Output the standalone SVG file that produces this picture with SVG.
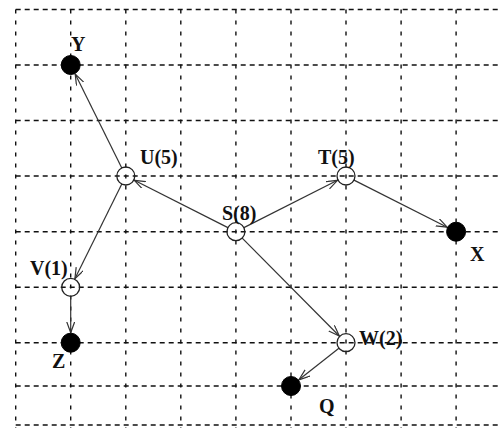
<svg xmlns="http://www.w3.org/2000/svg" width="501" height="428" viewBox="0 0 501 428">
<style>
.gh{stroke:#111;stroke-width:1.4;stroke-dasharray:5 4;fill:none}
.gv{stroke:#111;stroke-width:1.4;stroke-dasharray:4 7;fill:none}
.edge{stroke:#333;stroke-width:1.2;fill:none;marker-end:url(#arr)}
.open{fill:none;stroke:#222;stroke-width:1.3}
.full{fill:#000;stroke:#000;stroke-width:1}
.lbl{font-family:"Liberation Serif","Times New Roman",serif;font-weight:bold;font-size:20px;fill:#111}
</style>
<defs>
<marker id="arr" markerUnits="userSpaceOnUse" markerWidth="14" markerHeight="10" refX="11" refY="4" orient="auto">
<path d="M0,0 L11,4 L0,8" fill="none" stroke="#333" stroke-width="1.2"/>
</marker>
</defs>
<rect width="501" height="428" fill="#fff"/>
<g id="grid">
<line class="gh" x1="15.7" y1="9.5" x2="501" y2="9.5"/>
<line class="gh" x1="15.7" y1="65" x2="501" y2="65"/>
<line class="gh" x1="15.7" y1="120.5" x2="501" y2="120.5"/>
<line class="gh" x1="15.7" y1="176" x2="501" y2="176"/>
<line class="gh" x1="15.7" y1="231.7" x2="501" y2="231.7"/>
<line class="gh" x1="15.7" y1="287.3" x2="501" y2="287.3"/>
<line class="gh" x1="15.7" y1="342.7" x2="501" y2="342.7"/>
<line class="gh" x1="15.7" y1="386" x2="501" y2="386"/>
<line class="gh" x1="15.7" y1="425" x2="501" y2="425"/>
<line class="gv" x1="15.7" y1="9.5" x2="15.7" y2="428"/>
<line class="gv" x1="70.7" y1="9.5" x2="70.7" y2="428"/>
<line class="gv" x1="125.8" y1="9.5" x2="125.8" y2="428"/>
<line class="gv" x1="180.8" y1="9.5" x2="180.8" y2="428"/>
<line class="gv" x1="235.9" y1="9.5" x2="235.9" y2="428"/>
<line class="gv" x1="291" y1="9.5" x2="291" y2="428"/>
<line class="gv" x1="346" y1="9.5" x2="346" y2="428"/>
<line class="gv" x1="401.1" y1="9.5" x2="401.1" y2="428"/>
<line class="gv" x1="456.1" y1="9.5" x2="456.1" y2="428"/>
</g>
<g id="connectors">
<line class="edge" x1="227.9" y1="227.6" x2="134.3" y2="180.3"/>
<line class="edge" x1="243.9" y1="227.6" x2="337.5" y2="180.3"/>
<line class="edge" x1="242.2" y1="238.1" x2="339.3" y2="336"/>
<line class="edge" x1="121.8" y1="167.9" x2="75.2" y2="74"/>
<line class="edge" x1="121.8" y1="184.1" x2="74.9" y2="278.8"/>
<line class="edge" x1="354" y1="180.1" x2="447.2" y2="227.2"/>
<line class="edge" x1="70.7" y1="296.3" x2="70.7" y2="332.7"/>
<line class="edge" x1="338.9" y1="348.3" x2="298.9" y2="379.8"/>
</g>
<g id="node-Y"><circle class="full" cx="70.7" cy="65" r="9.5"/><text class="lbl" x="71" y="51">Y</text></g>
<g id="node-U"><circle class="open" cx="125.8" cy="176" r="9"/><text class="lbl" x="140" y="164">U(5)</text></g>
<g id="node-S"><circle class="open" cx="235.9" cy="231.7" r="9"/><text class="lbl" x="222" y="220">S(8)</text></g>
<g id="node-T"><circle class="open" cx="346" cy="176" r="9"/><text class="lbl" x="318" y="164">T(5)</text></g>
<g id="node-X"><circle class="full" cx="456.1" cy="231.7" r="9.5"/><text class="lbl" x="470" y="261">X</text></g>
<g id="node-V"><circle class="open" cx="70.7" cy="287.3" r="9"/><text class="lbl" x="30" y="275">V(1)</text></g>
<g id="node-Z"><circle class="full" cx="70.7" cy="342.7" r="9.5"/><text class="lbl" x="52" y="368">Z</text></g>
<g id="node-W"><circle class="open" cx="346" cy="342.7" r="9"/><text class="lbl" x="359" y="345">W(2)</text></g>
<g id="node-Q"><circle class="full" cx="291" cy="386" r="9.5"/><text class="lbl" x="319" y="413">Q</text></g>
</svg>
